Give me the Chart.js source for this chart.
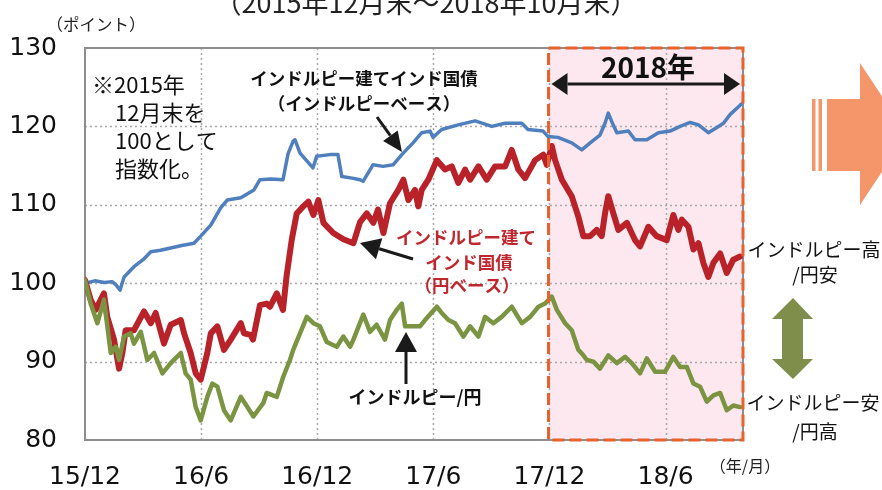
<!DOCTYPE html>
<html lang="ja">
<head>
<meta charset="utf-8">
<title>インドルピー建てインド国債</title>
<script src="https://cdn.jsdelivr.net/npm/chart.js@4"></script>
<style>
    html, body { margin: 0; padding: 0; background: #fff; }
    #wrap { width: 882px; height: 490px; position: relative; }
</style>
</head>
<body>
<div id="wrap"><canvas id="mainChart" width="882" height="490"></canvas></div>
<script>
// x values are months after end of Dec 2015 (0 = 15/12, 34 = 18/10)

const xTickMonths = [0, 6, 12, 18, 24, 30];
const xTickLabels = ['15/12', '16/6', '16/12', '17/6', '17/12', '18/6'];
const yTicks = [80, 90, 100, 110, 120, 130];

// インドルピー建てインド国債（インドルピーベース）
const bondInrBase = [
    [0, 100.0], [0.5, 100.3], [1.0, 100.1], [1.4, 100.2], [1.6, 99.8], [1.81, 99.1],
    [2.02, 100.8], [2.53, 102.1], [3.0, 103.0], [3.4, 104.0], [3.9, 104.2], [4.43, 104.5],
    [5.0, 104.8], [5.63, 105.1], [5.98, 106.0], [6.5, 107.4], [7.01, 109.6], [7.35, 110.6],
    [8.05, 110.9], [8.73, 111.9], [9.04, 113.2], [9.6, 113.3], [10.23, 113.2], [10.49, 116.5],
    [10.75, 118.1], [10.85, 118.3], [11.11, 116.6], [11.78, 114.7], [11.97, 116.2], [12.66, 116.4],
    [13.07, 116.4], [13.27, 113.6], [13.8, 113.4], [14.21, 113.2], [14.37, 113.0], [14.88, 115.1],
    [15.4, 114.9], [15.92, 115.1], [16.37, 116.4], [16.95, 117.9], [17.4, 119.2], [17.83, 119.4],
    [17.98, 118.6], [18.43, 119.6], [19.28, 120.2], [20.16, 120.7], [21.02, 120.0], [21.71, 120.4],
    [22.57, 120.4], [22.89, 119.6], [23.67, 119.4], [23.93, 118.7], [24.44, 118.6], [25.15, 117.9],
    [25.67, 117.0], [26.1, 117.9], [26.61, 118.9], [26.87, 120.4], [27.04, 121.7], [27.22, 120.6],
    [27.48, 119.2], [28.08, 119.4], [28.42, 118.3], [29.03, 118.3], [29.63, 119.2], [30.23, 119.4],
    [30.75, 120.0], [31.27, 120.5], [31.7, 120.2], [32.21, 119.2], [32.73, 120.0], [32.99, 120.4],
    [33.33, 121.5], [33.85, 122.7], [34, 123.0]
];

// インドルピー建てインド国債（円ベース）
const bondJpyBase = [
    [0, 100.4], [0.29, 97.9], [0.55, 96.6], [0.98, 98.7], [1.15, 95.7], [1.5, 92.8],
    [1.76, 89.1], [1.93, 91.1], [2.1, 94.0], [2.53, 94.0], [3.05, 96.4], [3.4, 94.9],
    [3.65, 96.2], [4.08, 92.3], [4.43, 94.7], [4.95, 95.3], [5.12, 93.6], [5.46, 91.1],
    [5.72, 88.5], [5.98, 87.7], [6.32, 91.1], [6.5, 93.6], [6.84, 94.5], [7.18, 91.5],
    [7.53, 92.8], [8.05, 94.9], [8.22, 93.6], [8.56, 93.4], [8.68, 92.8], [9.04, 97.2],
    [9.39, 97.4], [9.56, 97.0], [9.91, 98.7], [10.23, 96.6], [10.42, 101.0], [10.68, 105.5],
    [10.94, 108.9], [11.28, 109.8], [11.54, 110.4], [11.8, 108.7], [12.06, 110.6], [12.32, 107.7],
    [12.83, 106.4], [13.35, 105.6], [13.87, 105.1], [14.21, 107.8], [14.56, 108.9], [14.9, 107.7],
    [15.14, 109.4], [15.42, 106.4], [15.76, 110.2], [16.19, 111.9], [16.45, 113.2], [16.71, 110.6],
    [17.05, 111.9], [17.22, 109.8], [17.4, 111.9], [17.74, 113.2], [18.18, 115.7], [18.6, 114.5],
    [18.95, 114.9], [19.29, 112.8], [19.64, 114.5], [19.9, 113.2], [20.33, 114.9], [20.76, 113.2],
    [21.19, 114.9], [21.71, 114.9], [22.05, 117.0], [22.39, 114.5], [22.74, 113.4], [23.26, 115.7],
    [23.68, 116.4], [23.86, 115.1], [24.12, 117.5], [24.29, 115.7], [24.64, 113.2], [25.15, 111.1],
    [25.49, 108.5], [25.75, 106.0], [26.1, 106.0], [26.44, 106.8], [26.7, 106.0], [26.87, 108.9],
    [27.04, 111.1], [27.3, 108.9], [27.56, 106.8], [28.0, 107.7], [28.42, 105.5], [28.68, 104.7],
    [29.11, 107.2], [29.54, 106.0], [30.06, 105.5], [30.4, 108.7], [30.66, 106.8], [30.84, 108.1],
    [31.18, 107.2], [31.44, 104.3], [31.7, 105.1], [31.95, 102.6], [32.21, 100.8], [32.47, 102.6],
    [32.82, 103.8], [33.16, 101.3], [33.5, 103.0], [33.85, 103.4]
];

// インドルピー/円
const inrJpy = [
    [0, 100.4], [0.29, 97.4], [0.64, 94.9], [0.98, 97.9], [1.33, 91.1], [1.59, 91.9],
    [1.76, 90.2], [2.02, 93.2], [2.36, 93.6], [2.53, 92.3], [2.88, 93.8], [3.22, 90.2],
    [3.57, 91.1], [4.0, 88.5], [4.43, 89.8], [4.95, 91.1], [5.2, 88.5], [5.46, 87.7],
    [5.72, 84.2], [5.98, 82.5], [6.32, 85.5], [6.58, 87.2], [6.84, 86.8], [7.18, 83.8],
    [7.53, 82.5], [8.05, 85.5], [8.39, 84.2], [8.7, 83.0], [9.21, 84.7], [9.39, 86.0],
    [9.91, 85.5], [10.25, 88.1], [10.59, 90.2], [10.76, 91.5], [11.11, 93.6], [11.46, 95.7],
    [11.8, 94.9], [12.14, 94.5], [12.49, 92.5], [13.01, 91.9], [13.35, 93.2], [13.7, 91.9],
    [13.87, 92.8], [14.38, 96.0], [14.73, 93.8], [15.07, 94.7], [15.5, 92.8], [15.76, 95.3],
    [16.11, 96.6], [16.37, 97.4], [16.54, 94.5], [16.97, 94.5], [17.31, 94.5], [17.57, 95.3],
    [18.18, 97.0], [18.43, 96.2], [18.78, 95.3], [19.12, 94.9], [19.55, 93.2], [19.9, 94.5],
    [20.33, 93.2], [20.67, 95.7], [21.1, 94.9], [21.53, 95.7], [22.05, 97.0], [22.57, 94.9],
    [23.0, 95.7], [23.43, 97.0], [23.77, 97.4], [24.12, 98.3], [24.38, 96.6], [24.81, 94.9],
    [25.15, 94.0], [25.49, 91.5], [25.75, 90.8], [25.93, 90.2], [26.27, 90.0], [26.61, 89.1],
    [27.04, 90.8], [27.48, 89.8], [27.91, 90.6], [28.25, 89.8], [28.68, 88.5], [29.03, 90.4],
    [29.46, 88.7], [29.97, 88.7], [30.4, 90.6], [30.75, 89.3], [31.1, 89.3], [31.44, 87.2],
    [31.78, 86.8], [32.13, 84.9], [32.47, 85.7], [32.82, 86.0], [33.16, 83.8], [33.5, 84.4],
    [33.85, 84.2]
];

const box2018 = [23.95, 34];

document.addEventListener('DOMContentLoaded', () => {

    const JP = '"Noto Sans CJK JP", "Noto Sans", sans-serif';
    const NUM = '"DejaVu Sans", sans-serif';

    const toPoints = arr => arr.map(p => ({ x: p[0], y: p[1] }));

    /* -------------------- HELPERS -------------------- */

    function text(ctx, str, x, y, font, color, align = 'center') {
        ctx.font = font;
        ctx.fillStyle = color;
        ctx.textAlign = align;
        ctx.textBaseline = 'middle';
        ctx.fillText(str, x, y);
    }

    function arrow(ctx, x1, y1, x2, y2, headLen, headW) {
        const ang = Math.atan2(y2 - y1, x2 - x1);
        const bx = x2 - Math.cos(ang) * headLen;
        const by = y2 - Math.sin(ang) * headLen;
        ctx.strokeStyle = '#1a1a1a';
        ctx.fillStyle = '#1a1a1a';
        ctx.lineWidth = 3;
        ctx.beginPath();
        ctx.moveTo(x1, y1);
        ctx.lineTo(bx, by);
        ctx.stroke();
        const nx = -Math.sin(ang) * headW / 2;
        const ny = Math.cos(ang) * headW / 2;
        ctx.beginPath();
        ctx.moveTo(x2, y2);
        ctx.lineTo(bx + nx, by + ny);
        ctx.lineTo(bx - nx, by - ny);
        ctx.closePath();
        ctx.fill();
    }

    /* -------------------- PLUGINS -------------------- */

    const backdrop = {
        id: 'backdrop',
        beforeDatasetsDraw(chart) {
            const { ctx, chartArea: a, scales: { x, y } } = chart;
            ctx.save();
            // 2018 shading
            const bx1 = x.getPixelForValue(box2018[0]);
            const bx2 = x.getPixelForValue(box2018[1]);
            ctx.fillStyle = '#FCE8EE';
            ctx.fillRect(bx1, a.top, bx2 - bx1, a.bottom - a.top);

            // dotted grid
            ctx.strokeStyle = '#A8A8A8';
            ctx.lineWidth = 1.5;
            ctx.setLineDash([2, 3]);
            yTicks.slice(1, -1).forEach(v => {
                const py = Math.round(y.getPixelForValue(v)) + 0.5;
                ctx.beginPath();
                ctx.moveTo(a.left, py);
                ctx.lineTo(a.right, py);
                ctx.stroke();
            });
            xTickMonths.slice(1).forEach(v => {
                const px = Math.round(x.getPixelForValue(v)) + 0.5;
                ctx.beginPath();
                ctx.moveTo(px, a.top);
                ctx.lineTo(px, a.bottom);
                ctx.stroke();
            });
            ctx.setLineDash([]);

            // plot frame
            ctx.strokeStyle = '#8E8E8E';
            ctx.lineWidth = 2;
            ctx.strokeRect(a.left, a.top, a.right - a.left, a.bottom - a.top);
            ctx.restore();
        }
    };

    const notes = {
        id: 'notes',
        afterDatasetsDraw(chart) {
            const { ctx, chartArea: a, scales: { x } } = chart;
            ctx.save();

            // 2018 dashed box
            const bx1 = x.getPixelForValue(box2018[0]);
            const bx2 = x.getPixelForValue(box2018[1]);
            ctx.strokeStyle = '#E8622D';
            ctx.lineWidth = 3;
            ctx.setLineDash([12, 5]);
            ctx.strokeRect(bx1, a.top, bx2 - bx1, a.bottom - a.top);
            ctx.setLineDash([]);

            text(ctx, '2018年', 648, 67, 'bold 28px ' + JP, '#111');
            arrow(ctx, 600, 84, bx1 + 3, 84, 16, 22);
            arrow(ctx, 600, 84, bx2 - 3, 84, 16, 22);

            // title (cut at the top edge)
            ctx.font = '27px ' + JP;
            ctx.fillStyle = '#222';
            ctx.textAlign = 'center';
            ctx.textBaseline = 'alphabetic';
            ctx.fillText('（2015年12月末～2018年10月末）', 426, 13);

            text(ctx, '（ポイント）', 96, 25, '16.5px ' + JP, '#222');
            text(ctx, '（年/月）', 745, 466, '16px ' + JP, '#222');

            // note
            const noteFont = '22px ' + JP;
            text(ctx, '※2015年', 92, 85, noteFont, '#111', 'left');
            text(ctx, '12月末を', 115, 113, noteFont, '#111', 'left');
            text(ctx, '100として', 115, 141, noteFont, '#111', 'left');
            text(ctx, '指数化。', 115, 169, noteFont, '#111', 'left');

            // series labels
            text(ctx, 'インドルピー建てインド国債', 364, 78, 'bold 17.5px ' + JP, '#111');
            text(ctx, '（インドルピーベース）', 364, 103, 'bold 17.5px ' + JP, '#111');
            arrow(ctx, 377, 117, 402, 152, 20, 18);

            const red = '#C0262D';
            text(ctx, 'インドルピー建て', 466, 237, 'bold 17.5px ' + JP, red);
            text(ctx, 'インド国債', 469, 262, 'bold 17.5px ' + JP, red);
            text(ctx, '（円ベース）', 467, 285, 'bold 17.5px ' + JP, red);
            arrow(ctx, 413, 259, 360, 243, 20, 22);

            text(ctx, 'インドルピー/円', 415, 397, 'bold 18px ' + JP, '#111');
            arrow(ctx, 406, 384, 406, 332, 20, 22);

            // right side
            ctx.fillStyle = '#F4956A';
            ctx.fillRect(812, 99, 3.5, 72);
            ctx.fillRect(818.5, 99, 3.5, 72);
            ctx.fillRect(827, 99, 34, 72);
            ctx.beginPath();
            ctx.moveTo(860, 63);
            ctx.lineTo(907, 134);
            ctx.lineTo(860, 205);
            ctx.closePath();
            ctx.fill();

            text(ctx, 'インドルピー高', 814, 250, '19px ' + JP, '#111');
            text(ctx, '/円安', 815, 275, '19px ' + JP, '#111');
            text(ctx, 'インドルピー安', 813, 403, '19px ' + JP, '#111');
            text(ctx, '/円高', 815, 432, '19px ' + JP, '#111');

            ctx.fillStyle = '#7F8F4B';
            ctx.beginPath();
            ctx.moveTo(793, 298);
            ctx.lineTo(813, 319);
            ctx.lineTo(803, 319);
            ctx.lineTo(803, 359);
            ctx.lineTo(813, 359);
            ctx.lineTo(793, 379);
            ctx.lineTo(772, 359);
            ctx.lineTo(782, 359);
            ctx.lineTo(782, 319);
            ctx.lineTo(772, 319);
            ctx.closePath();
            ctx.fill();

            ctx.restore();
        }
    };

    /* -------------------- CHART -------------------- */

    const lineStyle = {
        pointRadius: 0,
        tension: 0,
        borderJoinStyle: 'round',
        borderCapStyle: 'round',
        fill: false
    };

    new Chart(document.getElementById('mainChart'), {
        type: 'line',
        data: {
            datasets: [
                Object.assign({ label: 'インドルピー/円', data: toPoints(inrJpy),
                    borderColor: '#7A9442', borderWidth: 4.5 }, lineStyle),
                Object.assign({ label: 'インドルピー建てインド国債（円ベース）', data: toPoints(bondJpyBase),
                    borderColor: '#B82228', borderWidth: 6 }, lineStyle),
                Object.assign({ label: 'インドルピー建てインド国債（インドルピーベース）', data: toPoints(bondInrBase),
                    borderColor: '#4F7FBD', borderWidth: 3.5 }, lineStyle)
            ]
        },
        options: {
            responsive: false,
            animation: false,
            layout: { padding: { left: 0, top: 48, right: 139, bottom: 0 } },
            plugins: {
                legend: { display: false },
                tooltip: { enabled: false }
            },
            scales: {
                x: {
                    type: 'linear',
                    min: 0,
                    max: 34,
                    grid: { display: false, drawTicks: false },
                    border: { display: false },
                    afterBuildTicks: scale => {
                        scale.ticks = xTickMonths.map(v => ({ value: v }));
                    },
                    afterFit: scale => { scale.height = 50; },
                    ticks: {
                        autoSkip: false,
                        maxRotation: 0,
                        padding: 22,
                        color: '#111',
                        font: { family: NUM, size: 25 },
                        callback: value => xTickLabels[xTickMonths.indexOf(value)]
                    }
                },
                y: {
                    min: 80,
                    max: 130,
                    grid: { display: false, drawTicks: false },
                    border: { display: false },
                    afterBuildTicks: scale => {
                        scale.ticks = yTicks.map(v => ({ value: v }));
                    },
                    afterFit: scale => { scale.width = 85; },
                    ticks: {
                        padding: 28,
                        color: '#111',
                        font: { family: NUM, size: 25 }
                    }
                }
            }
        },
        plugins: [backdrop, notes]
    });
});
</script>
</body>
</html>
